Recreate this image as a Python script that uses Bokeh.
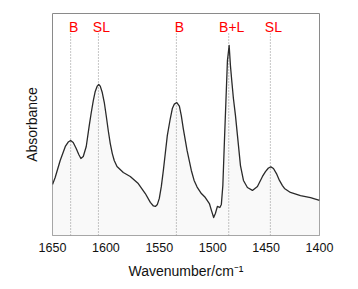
from bokeh.plotting import figure
from bokeh.models import Range1d
from bokeh.core.properties import value
from bokeh.embed import file_html
from bokeh.resources import INLINE

wavenumber = [1650, 1647.5, 1642.8, 1638, 1635.3, 1633, 1630.6, 1627.8, 1625.4, 1623.4,
              1621.2, 1618.4, 1615.6, 1613.7, 1611.8, 1610, 1608.1, 1606.7, 1605.3, 1603.4,
              1601.5, 1599.6, 1597.8, 1595.9, 1594, 1592.2, 1589.6, 1583.7, 1577.2, 1569.7,
              1563.1, 1558.4, 1555.5, 1553.7, 1551.8, 1550, 1548.1, 1546.2, 1544.3, 1542.5,
              1539.7, 1537.8, 1535.9, 1533.6, 1531.2, 1529.4, 1527.5, 1524, 1522, 1520,
              1517.4, 1514.6, 1510.6, 1506.9, 1503.1, 1501.2, 1499.1, 1497.5, 1495.6, 1493.3,
              1491.9, 1490.5, 1489, 1487.6, 1486.2, 1484.6, 1483.4, 1482, 1480.6, 1478.7,
              1476.8, 1474, 1471.2, 1467.5, 1462.8, 1458.1, 1453.4, 1450.6, 1447.8, 1445.5,
              1443.1, 1440.3, 1437.5, 1434.7, 1432.8, 1427.2, 1417.8, 1408.4, 1400]
absorbance = [0.230, 0.261, 0.338, 0.401, 0.421, 0.428, 0.419, 0.392, 0.365, 0.347,
              0.356, 0.401, 0.495, 0.554, 0.608, 0.649, 0.673, 0.680, 0.673, 0.644,
              0.599, 0.536, 0.473, 0.414, 0.369, 0.338, 0.311, 0.284, 0.266, 0.234,
              0.189, 0.149, 0.133, 0.131, 0.140, 0.167, 0.221, 0.293, 0.374, 0.450,
              0.527, 0.572, 0.592, 0.599, 0.583, 0.540, 0.480, 0.383, 0.338, 0.293,
              0.248, 0.218, 0.189, 0.171, 0.144, 0.113, 0.081, 0.099, 0.131, 0.126,
              0.140, 0.225, 0.428, 0.608, 0.788, 0.856, 0.766, 0.689, 0.617, 0.541,
              0.450, 0.315, 0.248, 0.216, 0.203, 0.221, 0.266, 0.288, 0.304, 0.309,
              0.302, 0.279, 0.248, 0.225, 0.212, 0.194, 0.180, 0.171, 0.158]

peak_positions = [1633, 1607, 1534, 1485, 1446]
peak_labels = ["B", "SL", "B", "B+L", "SL"]

x_ticks = [1650, 1600, 1550, 1500, 1450, 1400]

p = figure(width=358, height=289, output_backend="svg", toolbar_location=None,
           x_range=Range1d(1650, 1400), y_range=Range1d(0, 1),
           min_border_left=52, min_border_right=39, min_border_top=13, min_border_bottom=54)
p.background_fill_color = "white"
p.border_fill_color = "white"
p.outline_line_color = "#8a8a8a"
p.outline_line_width = 1
p.grid.visible = False

# faint fill under curve
p.varea(x=wavenumber, y1=[0] * len(wavenumber), y2=absorbance, fill_color="#f9f9f9")

# dotted peak marker lines
p.segment(x0=peak_positions, y0=[0] * 5, x1=peak_positions, y1=[0.91] * 5,
          line_color="#8c8c8c", line_width=1, line_dash="1 2")

p.line(wavenumber, absorbance, line_color="#2a2a2a", line_width=1.3, line_join="round")

p.text(x=peak_positions, y=[0.937] * 5, text=peak_labels, text_color="#ff0000",
       text_font=value("Liberation Sans"), text_font_size="14px",
       text_align="center", text_baseline="middle", x_offset=3)

xa = p.xaxis[0]
xa.ticker = x_ticks
xa.axis_line_color = None
xa.major_tick_line_color = None
xa.minor_tick_line_color = None
xa.major_tick_out = 0
xa.major_tick_in = 0
xa.major_label_standoff = 7
xa.major_label_text_font = "Liberation Sans"
xa.major_label_text_font_size = "12.5px"
xa.major_label_text_color = "#111111"
xa.axis_label = "Wavenumber/cm\u207b\u00b9"
xa.axis_label_text_font = "Liberation Sans"
xa.axis_label_text_font_size = "14px"
xa.axis_label_text_font_style = "normal"
xa.axis_label_text_color = "#111111"
xa.axis_label_standoff = 8

ya = p.yaxis[0]
ya.axis_line_color = None
ya.major_tick_line_color = None
ya.minor_tick_line_color = None
ya.major_tick_out = 0
ya.major_tick_in = 0
ya.major_label_text_color = None
ya.major_label_text_font_size = "1px"
ya.major_label_standoff = 0
ya.axis_label = "Absorbance"
ya.axis_label_text_font = "Liberation Sans"
ya.axis_label_text_font_size = "14px"
ya.axis_label_text_font_style = "normal"
ya.axis_label_text_color = "#111111"
ya.axis_label_standoff = 9

open("out.html", "w").write(file_html(p, INLINE))
